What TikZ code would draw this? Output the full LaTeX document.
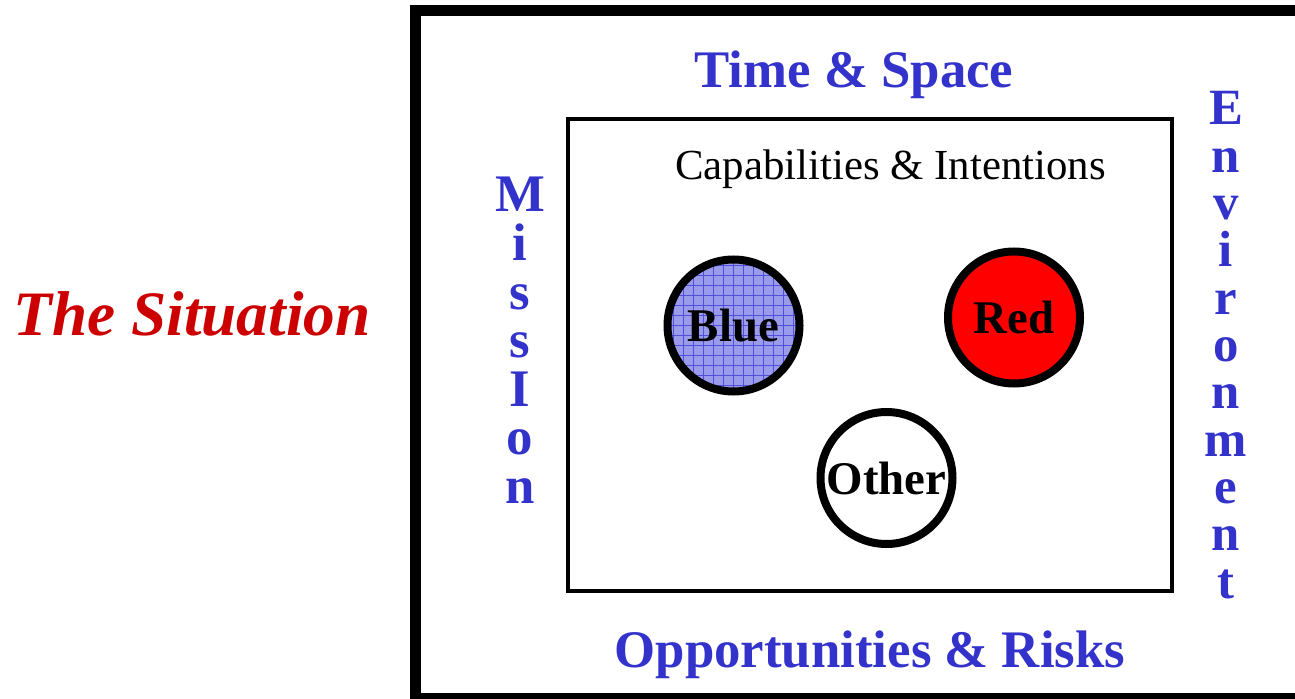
\documentclass[tikz,border=0pt]{standalone}
\usepackage{fontspec}
\setmainfont{Liberation Serif}
\definecolor{tblue}{RGB}{51,51,204}
\definecolor{tred}{RGB}{204,0,0}
\definecolor{bluefill}{RGB}{155,155,235}
\definecolor{gridblue}{RGB}{80,80,218}
\begin{document}
\begin{tikzpicture}[x=1bp,y=-1bp,
  every node/.style={inner sep=0pt},
  bluelab/.style={text=tblue, font=\fontsize{53}{56}\selectfont\bfseries},
  circ/.style={circle, draw=black, line width=8bp, minimum size=132bp,
    font=\fontsize{47}{50}\selectfont\bfseries}]
\clip (0,0) rectangle (1295,699);
\useasboundingbox (0,0) rectangle (1295,699);
% outer frame (clipped at right and bottom)
\draw[line width=11bp] (415.5,10.5) rectangle (1302,698.5);
% inner box
\draw[line width=4bp] (568,119) rectangle (1172,591);
% title
\node[anchor=base, text=tred, font=\fontsize{63.5}{66}\selectfont\bfseries\itshape] (sit) at (192,335) {The Situation};
\node[bluelab, anchor=base] (ts) at (854,88) {Time \& Space};
\node[bluelab, anchor=base] (or) at (870,667) {Opportunities \& Risks};
\node[anchor=base, font=\fontsize{43}{46}\selectfont] (ci) at (890.5,180) {Capabilities \& Intentions};
% vertical words
\node[bluelab, anchor=base] (mission) at (520,212)
  {\vtop{\baselineskip=48.5bp\lineskiplimit=-100bp\halign{\hfil#\hfil\cr M\cr i\cr s\cr s\cr I\cr o\cr n\cr}}};
\node[bluelab, font=\fontsize{51}{54}\selectfont\bfseries, anchor=base] (environment) at (1226,125)
  {\vtop{\baselineskip=47.3bp\lineskiplimit=-100bp\halign{\hfil#\hfil\cr E\cr n\cr v\cr i\cr r\cr o\cr n\cr m\cr e\cr n\cr t\cr}}};
% circles
\node[circ, fill=bluefill, path picture={
    \foreach \k in {-8,...,8} {
      \draw[gridblue, line width=0.7bp] ([xshift=\k*10bp, yshift=80bp]path picture bounding box.center) -- ++(0,-160bp);
      \draw[gridblue, line width=0.7bp] ([yshift=\k*10bp, xshift=-80bp]path picture bounding box.center) -- ++(160bp,0);
    }
  }] (blue) at (733.5,325.5) {Blue};
\node[circ, fill=red] (red) at (1014,317.5) {Red};
\node[circ, fill=white] (other) at (886.5,478) {Other};
\end{tikzpicture}
\end{document}
